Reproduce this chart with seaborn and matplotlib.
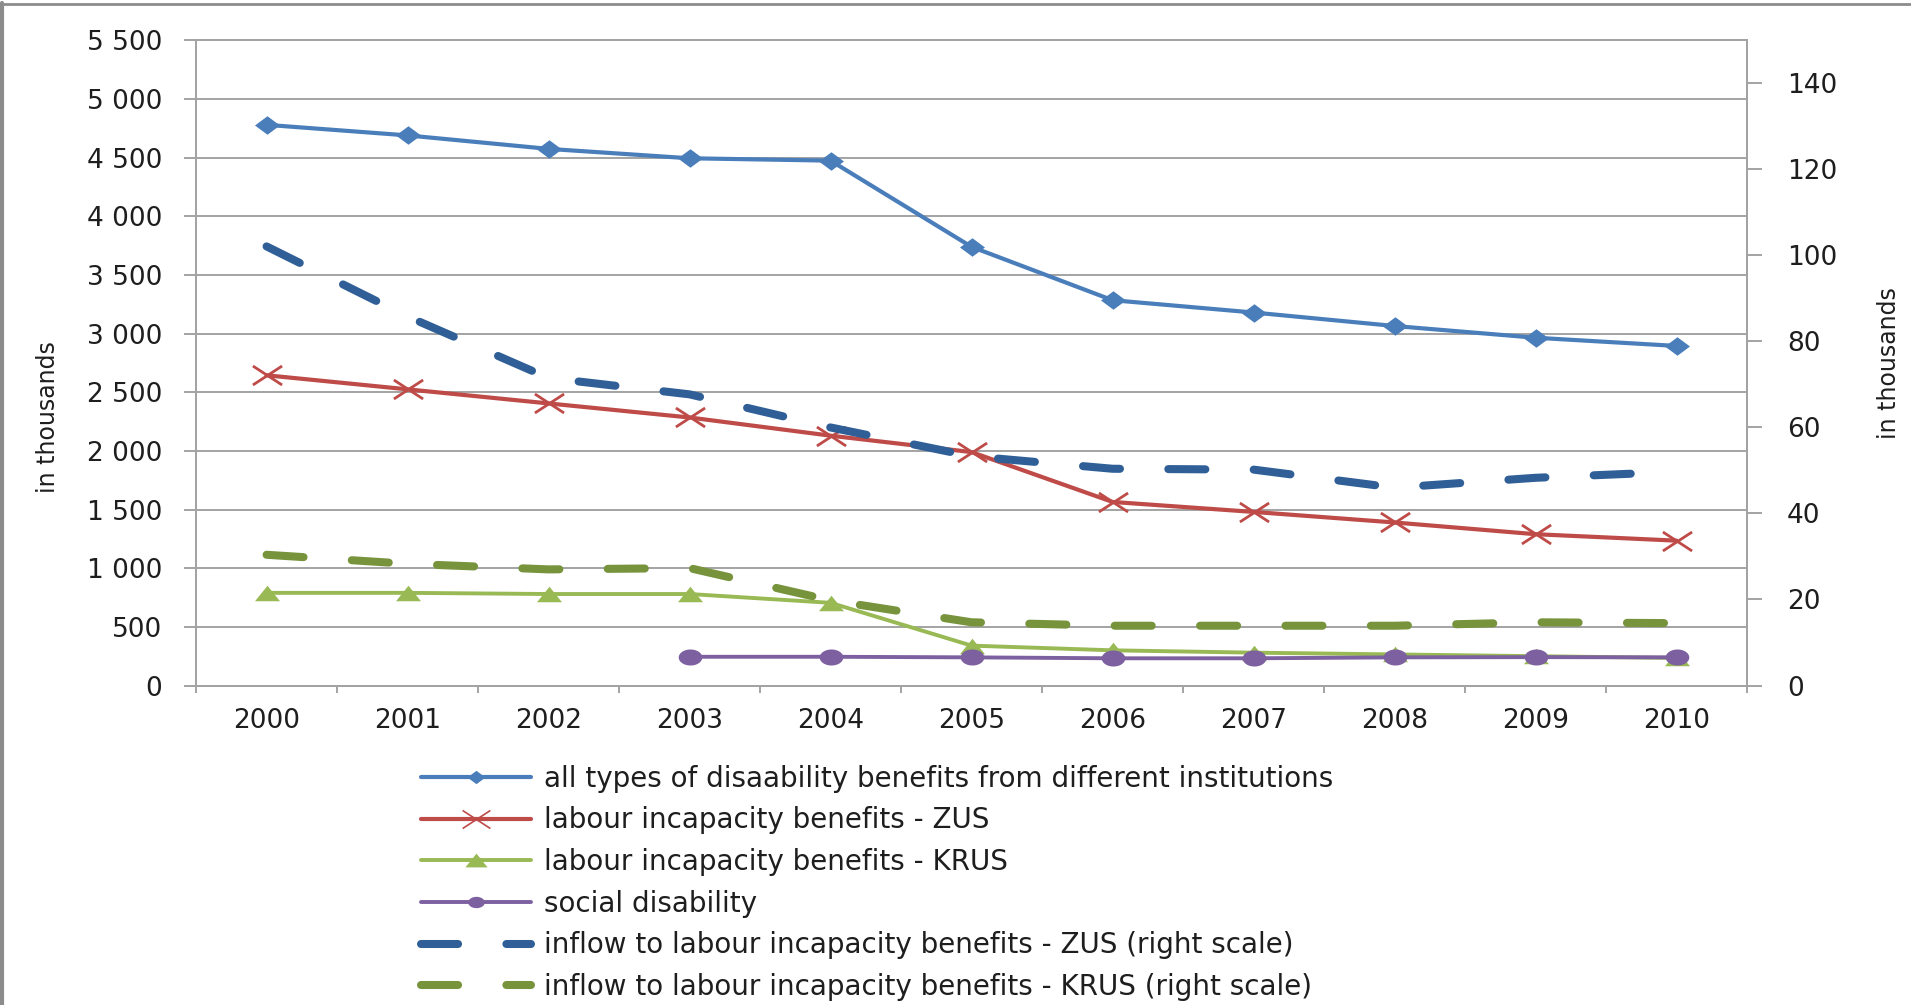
import numpy as np
import pandas as pd
import matplotlib
matplotlib.use("Agg")
import matplotlib.pyplot as plt
from matplotlib.path import Path
from matplotlib.lines import Line2D
import seaborn as sns

# ---- data (thousands) ----
years = ["2000", "2001", "2002", "2003", "2004", "2005",
         "2006", "2007", "2008", "2009", "2010"]
all_types = [4780, 4690, 4575, 4495, 4475, 3740, 3285, 3180, 3065, 2965, 2895]
zus = [2645, 2525, 2405, 2285, 2130, 1990, 1565, 1480, 1390, 1290, 1235]
krus = [790, 790, 780, 780, 705, 340, 300, 280, 265, 250, 235]
social_years = ["2003", "2004", "2005", "2006", "2007", "2008", "2009", "2010"]
social = [245, 245, 240, 232, 232, 240, 242, 240]
inflow_zus = [102.1, 85.8, 71.5, 67.7, 60.0, 53.3, 50.4, 50.2, 46.0, 48.3, 49.7]
inflow_krus = [30.4, 28.3, 27.0, 27.3, 19.8, 14.7, 13.9, 13.9, 13.9, 14.7, 14.5]

left_ticks = [0, 500, 1000, 1500, 2000, 2500, 3000, 3500, 4000, 4500, 5000, 5500]
left_tick_labels = ["0", "500", "1 000", "1 500", "2 000", "2 500", "3 000",
                    "3 500", "4 000", "4 500", "5 000", "5 500"]
right_ticks = [0, 20, 40, 60, 80, 100, 120, 140]

labels = [
    "all types of disaability benefits from different institutions",
    "labour incapacity benefits - ZUS",
    "labour incapacity benefits - KRUS",
    "social disability",
    "inflow to labour incapacity benefits - ZUS (right scale)",
    "inflow to labour incapacity benefits - KRUS (right scale)",
]

pos = {y: i for i, y in enumerate(years)}
df = pd.DataFrame({"x": [pos[y] for y in years], "all": all_types, "zus": zus,
                   "krus": krus, "in_zus": inflow_zus, "in_krus": inflow_krus})
df_soc = pd.DataFrame({"x": [pos[y] for y in social_years], "soc": social})

# ---- colours ----
c_blue = "#4A7EBB"
c_red = "#BE4B48"
c_green = "#98B954"
c_purple = "#7D60A0"
c_dblue = "#2F5F96"
c_dgreen = "#77933C"
c_grid = "#A3A3A3"
c_text = "#1E1E1E"

# ---- wide marker shapes ----
diamond = Path([(-1, 0), (0, 0.74), (1, 0), (0, -0.74), (-1, 0)],
               [Path.MOVETO, Path.LINETO, Path.LINETO, Path.LINETO, Path.CLOSEPOLY])
cross = Path([(-1, -0.65), (1, 0.65), (-1, 0.65), (1, -0.65)],
             [Path.MOVETO, Path.LINETO, Path.MOVETO, Path.LINETO])
triangle = Path([(-1, -0.62), (1, -0.62), (0, 0.62), (-1, -0.62)],
                [Path.MOVETO, Path.LINETO, Path.LINETO, Path.CLOSEPOLY])
t = np.linspace(0, 2 * np.pi, 41)
ellipse = Path(np.column_stack([np.cos(t), 0.68 * np.sin(t)]))

sns.set_style("white")
plt.rcParams["font.family"] = ["DejaVu Sans"]

fig = plt.figure(figsize=(19.11, 10.05), dpi=100)
ax = fig.add_axes([0.1026, 0.3179, 0.8116, 0.6419])
ax2 = ax.twinx()

sns.lineplot(data=df, x="x", y="all", ax=ax, color=c_blue, lw=3.0,
             marker=diamond, markersize=18, markeredgewidth=0,
             label=labels[0], legend=False)
sns.lineplot(data=df, x="x", y="zus", ax=ax, color=c_red, lw=3.0,
             marker=cross, markersize=21, markerfacecolor="none",
             markeredgecolor=c_red, markeredgewidth=2.0,
             label=labels[1], legend=False)
sns.lineplot(data=df, x="x", y="krus", ax=ax, color=c_green, lw=2.8,
             marker=triangle, markersize=18, markeredgewidth=0,
             label=labels[2], legend=False)
sns.lineplot(data=df_soc, x="x", y="soc", ax=ax, color=c_purple, lw=2.8,
             marker=ellipse, markersize=17, markeredgewidth=0,
             label=labels[3], legend=False)

dash = (0, (4.6, 6.0))
sns.lineplot(data=df, x="x", y="in_zus", ax=ax2, color=c_dblue, lw=5.8,
             linestyle=dash, dash_capstyle="round",
             label=labels[4], legend=False)
sns.lineplot(data=df, x="x", y="in_krus", ax=ax2, color=c_dgreen, lw=5.8,
             linestyle=dash, dash_capstyle="round",
             label=labels[5], legend=False)

# ---- left axis ----
ax.set_xlim(-0.5, len(years) - 0.5)
ax.set_ylim(0, 5500)
ax.set_yticks(left_ticks)
ax.set_yticklabels(left_tick_labels)
ax.yaxis.grid(True, color=c_grid, lw=1.4)
ax.xaxis.grid(False)
ax.set_axisbelow(True)
ax.tick_params(axis="y", direction="out", length=8.6, width=1.4, color=c_grid,
               pad=16, labelsize=19, labelcolor=c_text, left=True)

# category boundaries carry the tick marks, centres carry the labels
ax.set_xticks(np.arange(-0.5, len(years), 1.0))
ax.set_xticklabels([])
ax.set_xticks(np.arange(len(years)), minor=True)
ax.set_xticklabels(years, minor=True)
ax.tick_params(axis="x", which="major", direction="out", length=5, width=1.4,
               color=c_grid, bottom=True)
ax.tick_params(axis="x", which="minor", length=0, pad=16, labelsize=19,
               labelcolor=c_text)
ax.set_xlabel("")
ax.set_ylabel("in thousands", fontsize=17, color=c_text)
ax.yaxis.set_label_coords(-0.0877, 0.4155)

# ---- right axis ----
ax2.set_ylim(0, 150)
ax2.set_yticks(right_ticks)
ax2.tick_params(axis="y", direction="out", length=10.8, width=1.4, color=c_grid,
                pad=18, labelsize=19, labelcolor=c_text, right=True)
ax2.grid(False)
ax2.set_ylabel("in thousands", fontsize=17, color=c_text)
ax2.yaxis.set_label_coords(1.0835, 0.5)

for a in (ax, ax2):
    for side in ("left", "bottom", "right", "top"):
        a.spines[side].set_visible(True)
        a.spines[side].set_color(c_grid)
        a.spines[side].set_linewidth(1.4)

# ---- legend below the plot ----
h1, l1 = ax.get_legend_handles_labels()
h2, l2 = ax2.get_legend_handles_labels()
leg = fig.legend(h1 + h2, l1 + l2, loc="upper left", bbox_to_anchor=(0.2205, 0.239),
                 frameon=False, fontsize=20, handlelength=3.95, handletextpad=0.45,
                 labelspacing=0.49, borderpad=0, borderaxespad=0, numpoints=1,
                 labelcolor=c_text)
legend_marker_sizes = [13, 20, 16, 12, 0, 0]
for h, ms in zip(leg.legend_handles, legend_marker_sizes):
    if ms:
        h.set_markersize(ms)
leg.legend_handles[1].set_markeredgewidth(1.2)

# chart-area border (left and top edges)
fig.add_artist(Line2D([0.0012, 0.0012], [0, 0.997], transform=fig.transFigure,
                      color="#8C8C8C", lw=3))
fig.add_artist(Line2D([0.0, 1.0], [0.9965, 0.9965], transform=fig.transFigure,
                      color="#8C8C8C", lw=2))

fig.savefig("out.png", dpi=100, facecolor="white")
